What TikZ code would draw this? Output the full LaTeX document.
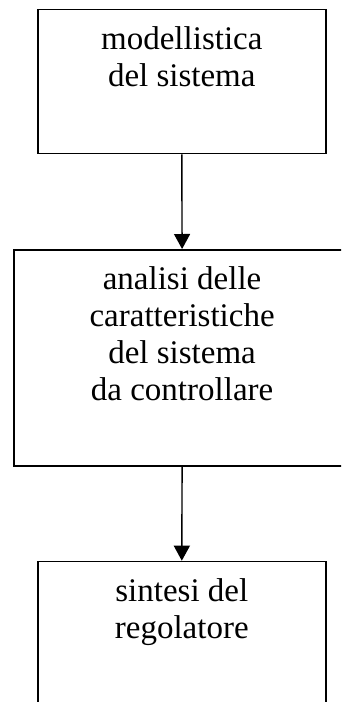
\documentclass[tikz,border=0pt]{standalone}
\usepackage{fontspec}
\setmainfont{Liberation Serif}
\usetikzlibrary{arrows.meta}
\begin{document}
\begin{tikzpicture}[x=1pt,y=-1pt,
  boxnode/.style={draw=black,line width=1.6pt,rectangle,inner sep=0pt,anchor=north west},
  boxtext/.style={anchor=north,inner sep=0pt,align=center,font=\fontsize{33}{37}\selectfont},
  flow/.style={draw=black,line width=1.4pt,-{Triangle[width=16pt,length=15pt]}}]
\useasboundingbox (0,0) rectangle (341,702);
\clip (0,0) rectangle (341,702);
\fill[white] (0,0) rectangle (341,702);
\node[boxnode,minimum width=288pt,minimum height=144pt] (b1) at (37,8.7) {};
\node[boxnode,minimum width=336pt,minimum height=216pt] (b2) at (13.3,249) {};
\node[boxnode,minimum width=288pt,minimum height=216pt] (b3) at (37,560.7) {};
\node[boxtext] (t1) at ([yshift=-17.5pt]b1.north) {modellistica\\del sistema};
\node[boxtext] (t2) at ([yshift=-17.5pt]b2.north) {analisi delle\\caratteristiche\\del sistema\\da controllare};
\node[boxtext] (t3) at ([yshift=-17.5pt]b3.north) {sintesi del\\regolatore};
\draw[flow] (b1.south) -- (b2.north);
\draw[flow] (b2.south) -- (b3.north);
\end{tikzpicture}
\end{document}
